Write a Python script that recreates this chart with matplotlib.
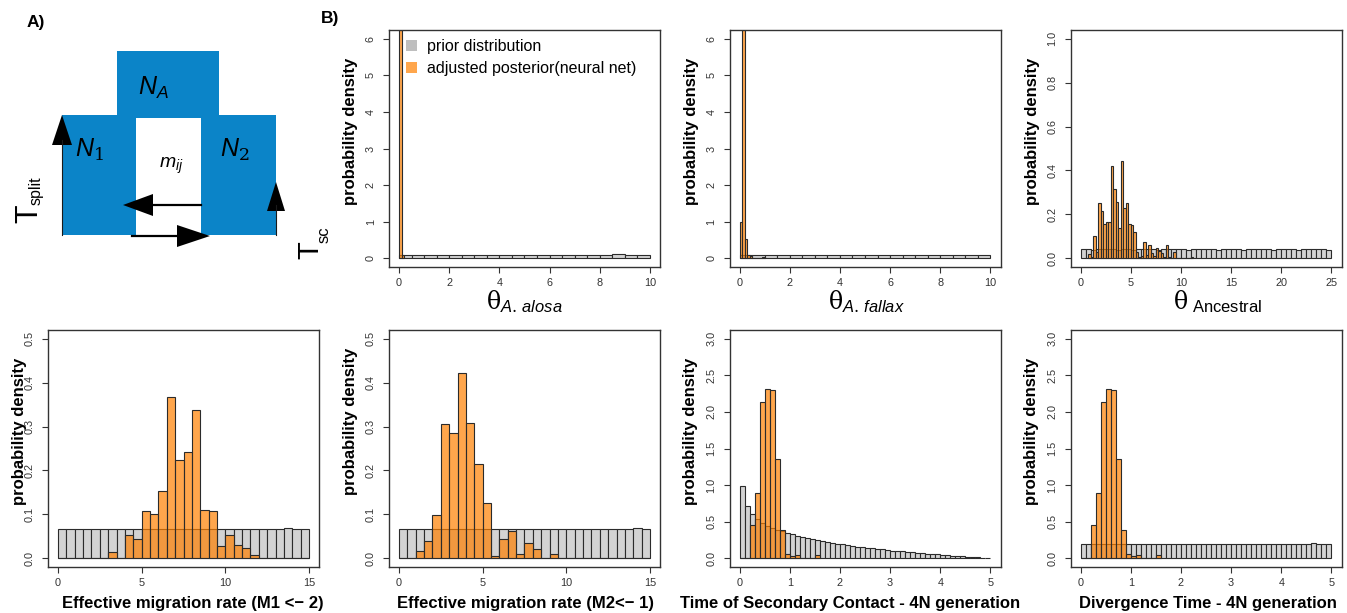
import numpy as np
import matplotlib
matplotlib.use("Agg")
from matplotlib import pyplot as plt
from matplotlib.patches import Polygon, Patch

plt.rcParams['font.family'] = ['Liberation Sans', 'DejaVu Sans']
plt.rcParams['mathtext.fontset'] = 'custom'
plt.rcParams['mathtext.rm'] = 'DejaVu Serif'
plt.rcParams['mathtext.it'] = 'Liberation Sans:italic'
plt.rcParams['mathtext.sf'] = 'Liberation Sans'

# ---- data (densities) ----
# theta A. alosa : prior bins 0.5 wide on 0..10, posterior bins 0.1 wide from 0
alosa_prior = [0.100, 0.101, 0.099, 0.100, 0.100, 0.098, 0.101, 0.100, 0.099, 0.101,
               0.100, 0.100, 0.099, 0.101, 0.100, 0.099, 0.100, 0.102, 0.099, 0.100]
alosa_post = [9.9, 0.1]

# theta A. fallax
fallax_prior = [0.099, 0.100, 0.101, 0.100, 0.099, 0.100, 0.101, 0.099, 0.100, 0.100,
                0.101, 0.099, 0.100, 0.100, 0.098, 0.101, 0.100, 0.100, 0.101, 0.099]
fallax_post = [1.0, 8.3, 0.53, 0.08, 0.05, 0.0, 0.0, 0.0, 0.0, 0.02]

# theta Ancestral : prior bins 0.5 wide on 0..25, posterior bins 0.25 wide from 0.75
anc_prior = [0.040, 0.041, 0.039, 0.040, 0.040, 0.041, 0.040, 0.039, 0.040, 0.040,
             0.039, 0.040, 0.041, 0.040, 0.040, 0.039, 0.040, 0.040, 0.041, 0.040,
             0.040, 0.039, 0.040, 0.041, 0.040, 0.040, 0.040, 0.039, 0.040, 0.041,
             0.040, 0.040, 0.039, 0.040, 0.040, 0.041, 0.040, 0.040, 0.039, 0.040,
             0.040, 0.041, 0.040, 0.039, 0.040, 0.040, 0.040, 0.041, 0.040, 0.039]
anc_post = [0.02, 0.005, 0.10, 0.03, 0.25, 0.215, 0.155, 0.165, 0.165, 0.42,
            0.315, 0.255, 0.14, 0.445, 0.23, 0.25, 0.155, 0.15, 0.118, 0.03,
            0.005, 0.01, 0.075, 0.015, 0.06, 0.025, 0.01, 0.045, 0.035, 0.025,
            0.005, 0.062, 0.005, 0.0, 0.028, 0.0, 0.0, 0.0, 0.0, 0.0,
            0.0, 0.005]

# migration rates : bins 0.5 wide on 0..15
m12_prior = [0.067, 0.067, 0.066, 0.067, 0.067, 0.066, 0.067, 0.067, 0.067, 0.066,
             0.067, 0.066, 0.067, 0.067, 0.066, 0.067, 0.067, 0.066, 0.067, 0.067,
             0.066, 0.067, 0.067, 0.066, 0.067, 0.067, 0.067, 0.068, 0.067, 0.066]
m12_post = [0.0, 0.0, 0.0, 0.0, 0.0, 0.0, 0.015, 0.0, 0.052, 0.043,
            0.107, 0.100, 0.154, 0.367, 0.224, 0.242, 0.338, 0.111, 0.107, 0.027,
            0.053, 0.029, 0.024, 0.008, 0.0, 0.0, 0.0, 0.0, 0.0, 0.0]
m21_prior = [0.067, 0.066, 0.067, 0.067, 0.066, 0.067, 0.067, 0.067, 0.066, 0.067,
             0.067, 0.066, 0.067, 0.067, 0.067, 0.066, 0.067, 0.067, 0.066, 0.067,
             0.067, 0.066, 0.067, 0.067, 0.066, 0.067, 0.067, 0.067, 0.068, 0.067]
m21_post = [0.0, 0.001, 0.017, 0.040, 0.099, 0.305, 0.285, 0.422, 0.308, 0.215,
            0.125, 0.006, 0.044, 0.062, 0.010, 0.034, 0.020, 0.0, 0.010, 0.0,
            0.0, 0.0, 0.0, 0.0, 0.0, 0.0, 0.0, 0.0, 0.0, 0.0]

# times (4N generations) : bins 0.1 wide on 0..5
tsc_prior = [0.99, 0.71, 0.60, 0.54, 0.48, 0.44, 0.41, 0.39, 0.37, 0.35,
             0.33, 0.31, 0.29, 0.28, 0.265, 0.25, 0.24, 0.225, 0.21, 0.20,
             0.19, 0.18, 0.17, 0.16, 0.15, 0.142, 0.135, 0.127, 0.12, 0.112,
             0.105, 0.098, 0.092, 0.086, 0.079, 0.073, 0.067, 0.062, 0.056, 0.051,
             0.046, 0.041, 0.036, 0.032, 0.027, 0.023, 0.018, 0.013, 0.008, 0.003]
tsc_post = [0.0, 0.0, 0.45, 0.885, 2.135, 2.31, 2.30, 1.35, 0.38, 0.06,
            0.027, 0.05, 0.0, 0.0, 0.0, 0.045]
div_prior = [0.198, 0.200, 0.199, 0.201, 0.200, 0.199, 0.200, 0.201, 0.199, 0.200,
             0.200, 0.198, 0.201, 0.200, 0.199, 0.200, 0.200, 0.201, 0.199, 0.200,
             0.201, 0.200, 0.199, 0.200, 0.200, 0.201, 0.199, 0.200, 0.200, 0.199,
             0.200, 0.201, 0.200, 0.199, 0.200, 0.200, 0.201, 0.199, 0.200, 0.200,
             0.199, 0.200, 0.201, 0.200, 0.199, 0.200, 0.202, 0.200, 0.199, 0.200]
div_post = [0.0, 0.0, 0.45, 0.885, 2.135, 2.31, 2.30, 1.35, 0.38, 0.06,
            0.027, 0.05, 0.0, 0.0, 0.0, 0.045]

PRIOR_COL = '#d3d3d3'
POST_COL = (1.0, 0.5, 0.0, 0.7)
EDGE = '#2b2b2b'
W, H = 1347, 613

fig = plt.figure(figsize=(13.47, 6.13), dpi=100)

# ---- panel A : model diagram (drawn in pixel coordinates) ----
axd = fig.add_axes([0, 0, 1, 1])
axd.set_xlim(0, W)
axd.set_ylim(H, 0)
axd.axis('off')
blue = '#0b84c8'
shape = [(62, 115), (117, 115), (117, 51), (219, 51), (219, 115), (276, 115),
         (276, 235), (201, 235), (201, 118), (136, 118), (136, 235), (62, 235)]
axd.add_patch(Polygon(shape, closed=True, facecolor=blue, edgecolor='none'))
# migration arrows
axd.plot([153, 201], [205, 205], color='black', lw=1.6)
axd.add_patch(Polygon([(123, 205), (153, 194), (153, 216)], facecolor='black'))
axd.plot([132, 180], [236, 236], color='black', lw=1.6)
axd.add_patch(Polygon([(210, 236), (177, 225), (177, 247)], facecolor='black'))
# time arrows
axd.plot([62, 62], [140, 235], color='#1a1a1a', lw=0.8)
axd.add_patch(Polygon([(62, 115), (52, 145), (72, 145)], facecolor='black'))
axd.plot([276, 276], [205, 235], color='#1a1a1a', lw=0.8)
axd.add_patch(Polygon([(276, 182), (267, 211), (285, 211)], facecolor='black'))
axd.text(138, 95, r'$N_A$', fontsize=18, ha='left', va='baseline')
axd.text(75, 157, r'$N_{\mathit{1}}$', fontsize=18, ha='left', va='baseline')
axd.text(220, 157, r'$N_{\mathit{2}}$', fontsize=18, ha='left', va='baseline')
axd.text(159, 168, r'$m_{ij}$', fontsize=14, ha='left', va='baseline')
axd.text(37, 223, 'T', fontsize=22, rotation=90, ha='left', va='baseline',
         rotation_mode='anchor')
axd.text(41, 205, 'split', fontsize=11.5, rotation=90, ha='left', va='baseline',
         rotation_mode='anchor')
axd.text(318, 259, 'T', fontsize=21, rotation=90, ha='left', va='baseline',
         rotation_mode='anchor')
axd.text(329, 243, 'sc', fontsize=12, rotation=90, ha='left', va='baseline',
         rotation_mode='anchor')
axd.text(27, 22, 'A)', fontsize=12.5, fontweight='bold', ha='left', va='center')
axd.text(321, 18, 'B)', fontsize=12.5, fontweight='bold', ha='left', va='center')


def panel(left_px, top_px, prior, prior_start, prior_w, post, post_start, post_w,
          xr, yr, xticks, yticks, ylabs, xlabel, xlab_pos, ylab_pos, bold_x):
    ax = fig.add_axes([left_px / W, 1 - (top_px + 237) / H, 271 / W, 237 / H])
    xp = prior_start + prior_w * np.arange(len(prior))
    ax.bar(xp, prior, width=prior_w, align='edge', color=PRIOR_COL,
           edgecolor=EDGE, linewidth=0.8)
    xo = post_start + post_w * np.arange(len(post))
    ax.bar(xo, post, width=post_w, align='edge', color=POST_COL,
           edgecolor=EDGE, linewidth=0.8)
    dx = 0.04 * (xr[1] - xr[0])
    dy = 0.04 * (yr[1] - yr[0])
    ax.set_xlim(xr[0] - dx, xr[1] + dx)
    ax.set_ylim(yr[0] - dy, yr[1] + dy)
    ax.set_xticks(xticks)
    ax.set_yticks(yticks, ylabs, rotation=90, va='center')
    ax.tick_params(direction='out', length=4.5, width=0.8, color='#333333',
                   labelsize=7.8, labelcolor='#333333', pad=5)
    ax.tick_params(axis='x', pad=3.5)
    for s in ax.spines.values():
        s.set_color('#333333')
        s.set_linewidth(1.0)
    ax.set_ylabel('probability density', fontsize=12, fontweight='bold')
    ax.yaxis.set_label_coords(*ylab_pos)
    ax.yaxis.label.set_va('center')
    if bold_x:
        ax.set_xlabel(xlabel, fontsize=12, fontweight='bold')
    else:
        ax.set_xlabel(xlabel, fontsize=17)
    ax.xaxis.set_label_coords(*xlab_pos)
    ax.xaxis.label.set_va('center')
    return ax


cols = [48, 389, 729.5, 1070.5]
ax1 = panel(cols[1], 30, alosa_prior, 0, 0.5, alosa_post, 0, 0.1,
            (0, 10), (0, 6), [0, 2, 4, 6, 8, 10], [0, 1, 2, 3, 4, 5, 6],
            ['0', '1', '2', '3', '4', '5', '6'],
            r'$\mathrm{\theta}_{\mathit{A.}\,\mathit{alosa}}$', (0.5, -0.147), (-0.142, 0.572), False)
ax2 = panel(cols[2], 30, fallax_prior, 0, 0.5, fallax_post, 0, 0.1,
            (0, 10), (0, 6), [0, 2, 4, 6, 8, 10], [0, 1, 2, 3, 4, 5, 6],
            ['0', '1', '2', '3', '4', '5', '6'],
            r'$\mathrm{\theta}_{\mathit{A.}\,\mathit{fallax}}$', (0.504, -0.147), (-0.142, 0.572), False)
ax3 = panel(cols[3], 30, anc_prior, 0, 0.5, anc_post, 0.75, 0.25,
            (0, 25), (0, 1), [0, 5, 10, 15, 20, 25], [0, 0.2, 0.4, 0.6, 0.8, 1.0],
            ['0.0', '0.2', '0.4', '0.6', '0.8', '1.0'],
            r'$\mathrm{\theta}_{\ \mathsf{Ancestral}}$', (0.541, -0.147), (-0.142, 0.572), False)
ax4 = panel(cols[0], 330, m12_prior, 0, 0.5, m12_post, 0, 0.5,
            (0, 15), (0, 0.5), [0, 5, 10, 15], [0, 0.1, 0.2, 0.3, 0.4, 0.5],
            ['0.0', '0.1', '0.2', '0.3', '0.4', '0.5'],
            'Effective migration rate (M1 <\u2212 2)', (0.533, -0.156), (-0.107, 0.572), True)
ax5 = panel(cols[1], 330, m21_prior, 0, 0.5, m21_post, 0, 0.5,
            (0, 15), (0, 0.5), [0, 5, 10, 15], [0, 0.1, 0.2, 0.3, 0.4, 0.5],
            ['0.0', '0.1', '0.2', '0.3', '0.4', '0.5'],
            'Effective migration rate (M2<\u2212 1)', (0.502, -0.156), (-0.142, 0.614), True)
ax6 = panel(cols[2], 330, tsc_prior, 0, 0.1, tsc_post, 0, 0.1,
            (0, 5), (0, 3), [0, 1, 2, 3, 4, 5], [0, 0.5, 1, 1.5, 2, 2.5, 3],
            ['0.0', '0.5', '1.0', '1.5', '2.0', '2.5', '3.0'],
            'Time of Secondary Contact - 4N generation', (0.446, -0.156), (-0.144, 0.572), True)
ax7 = panel(cols[3], 330, div_prior, 0, 0.1, div_post, 0, 0.1,
            (0, 5), (0, 3), [0, 1, 2, 3, 4, 5], [0, 0.5, 1, 1.5, 2, 2.5, 3],
            ['0.0', '0.5', '1.0', '1.5', '2.0', '2.5', '3.0'],
            'Divergence Time - 4N generation', (0.507, -0.156), (-0.144, 0.572), True)

handles = [Patch(facecolor='#bebebe', edgecolor='none', label='prior distribution'),
           Patch(facecolor='#ffa64c', edgecolor='none', label='adjusted posterior(neural net)')]
ax1.legend(handles=handles, loc='upper left', bbox_to_anchor=(0.05, 0.975),
           frameon=False, fontsize=11.5, handlelength=0.7, handleheight=0.7,
           handletextpad=0.6, labelspacing=0.45, borderaxespad=0, borderpad=0.2)

fig.savefig('out.png', dpi=100)
